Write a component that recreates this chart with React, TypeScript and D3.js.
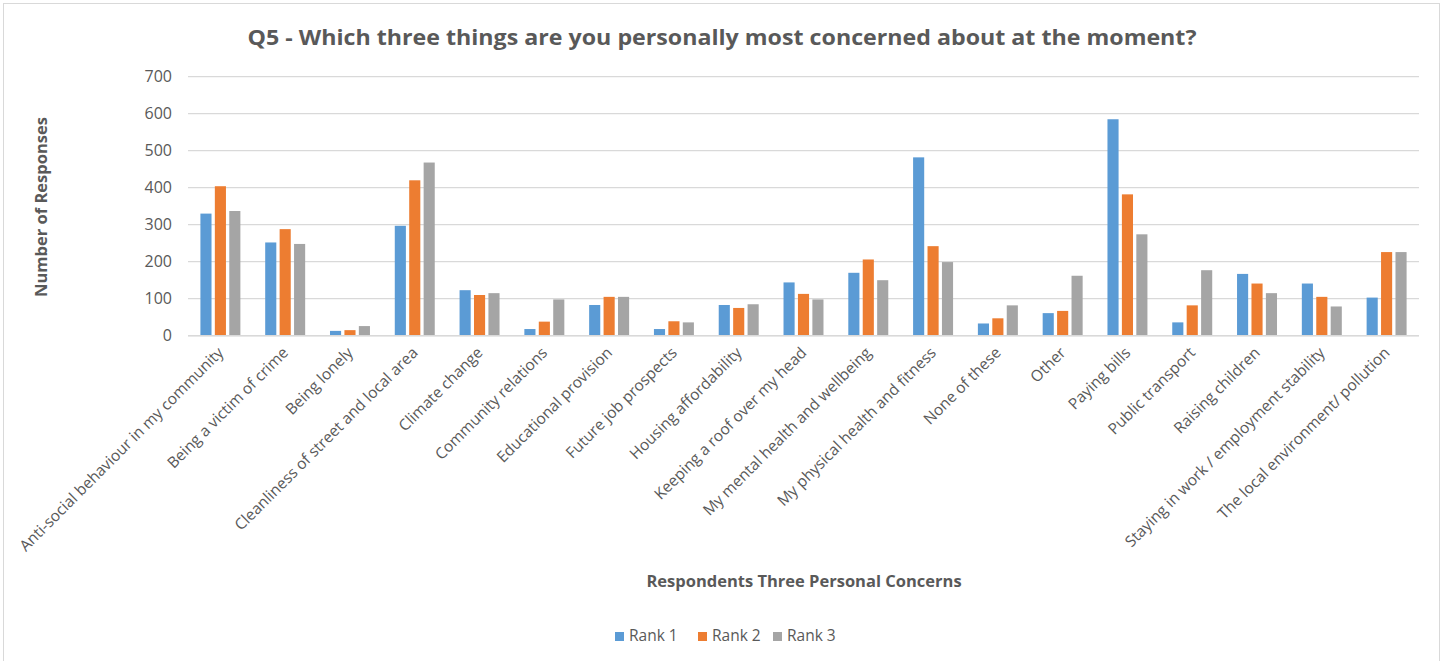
import React from "react";
import * as d3 from "d3";

const categories = [
  "Anti-social behaviour in my community",
  "Being a victim of crime",
  "Being lonely",
  "Cleanliness of street and local area",
  "Climate change",
  "Community relations",
  "Educational provision",
  "Future job prospects",
  "Housing affordability",
  "Keeping a roof over my head",
  "My mental health and wellbeing",
  "My physical health and fitness",
  "None of these",
  "Other",
  "Paying bills",
  "Public transport",
  "Raising children",
  "Staying in work / employment stability",
  "The local environment/ pollution",
];

const rank1 = [330, 252, 13, 297, 123, 18, 83, 18, 83, 144, 170, 482, 33, 61, 585, 36, 167, 141, 103];
const rank2 = [404, 288, 15, 420, 110, 38, 105, 39, 75, 113, 206, 242, 47, 67, 382, 82, 141, 105, 226];
const rank3 = [337, 248, 26, 468, 115, 98, 105, 36, 85, 98, 150, 199, 82, 162, 274, 177, 115, 79, 226];

const seriesNames = ["Rank 1", "Rank 2", "Rank 3"];
const seriesColors = ["#5B9BD5", "#ED7D31", "#A5A5A5"];
const yTicks = [0, 100, 200, 300, 400, 500, 600, 700];

const W = 1445;
const H = 661;
const plotLeft = 188;
const plotRight = 1419;
const plotTop = 76.7;
const plotBottom = 335.7;
const FONT = "'Open Sans', 'Liberation Sans', sans-serif";
const TEXT = "#595959";

export default function App() {
  const series = [rank1, rank2, rank3];
  const x = d3.scaleBand<string>().domain(categories).range([plotLeft, plotRight]).padding(0);
  const inner = d3
    .scaleBand<string>()
    .domain(seriesNames)
    .range([0, x.step()])
    .paddingInner(0.23)
    .paddingOuter(0.86);
  const y = d3.scaleLinear().domain([0, 700]).range([plotBottom, plotTop]);

  return (
    <svg
      width={W}
      height={H}
      style={{ position: "absolute", left: 0, top: 0, background: "#fff" }}
      fontFamily={FONT}
    >
      <rect x={3.5} y={3.5} width={1436} height={665} fill="#fff" stroke="#D9D9D9" strokeWidth={1} />
      <text
        x={722}
        y={45}
        textAnchor="middle"
        fontSize={21}
        fontWeight="bold"
        fill={TEXT}
        textLength={949}
        lengthAdjust="spacingAndGlyphs"
      >
        Q5 - Which three things are you personally most concerned about at the moment?
      </text>

      {yTicks.map((t) => (
        <g key={t}>
          <line x1={plotLeft} x2={plotRight} y1={y(t)} y2={y(t)} stroke="#D9D9D9" strokeWidth={1.3} />
          <text x={172} y={y(t) + 5.5} textAnchor="end" fontSize={16} fill={TEXT}>
            {t}
          </text>
        </g>
      ))}

      {categories.map((c, i) => (
        <g key={c}>
          {series.map((s, k) => (
            <rect
              key={k}
              x={(x(c) as number) + (inner(seriesNames[k]) as number)}
              y={y(s[i])}
              width={inner.bandwidth()}
              height={plotBottom - y(s[i])}
              fill={seriesColors[k]}
            />
          ))}
        </g>
      ))}
      <line x1={plotLeft} x2={plotRight} y1={plotBottom} y2={plotBottom} stroke="#D9D9D9" strokeWidth={1.5} />

      {categories.map((c) => {
        const cx = (x(c) as number) + x.bandwidth() / 2 + 4;
        const cy = plotBottom + 18;
        return (
          <text
            key={c}
            transform={`translate(${cx},${cy}) rotate(-45)`}
            textAnchor="end"
            fontSize={15.5}
            fill={TEXT}
          >
            {c}
          </text>
        );
      })}

      <text
        transform={`translate(47,207) rotate(-90)`}
        textAnchor="middle"
        fontSize={16.5}
        fontWeight="bold"
        fill={TEXT}
      >
        Number of Responses
      </text>
      <text x={804} y={587} textAnchor="middle" fontSize={16.5} fontWeight="bold" fill={TEXT}>
        Respondents Three Personal Concerns
      </text>

      {seriesNames.map((n, k) => {
        const lx = [615, 698, 773][k];
        return (
          <g key={n}>
            <rect x={lx} y={632} width={9} height={9} fill={seriesColors[k]} />
            <text x={lx + 14} y={641} fontSize={15.5} fill={TEXT}>
              {n}
            </text>
          </g>
        );
      })}
    </svg>
  );
}
